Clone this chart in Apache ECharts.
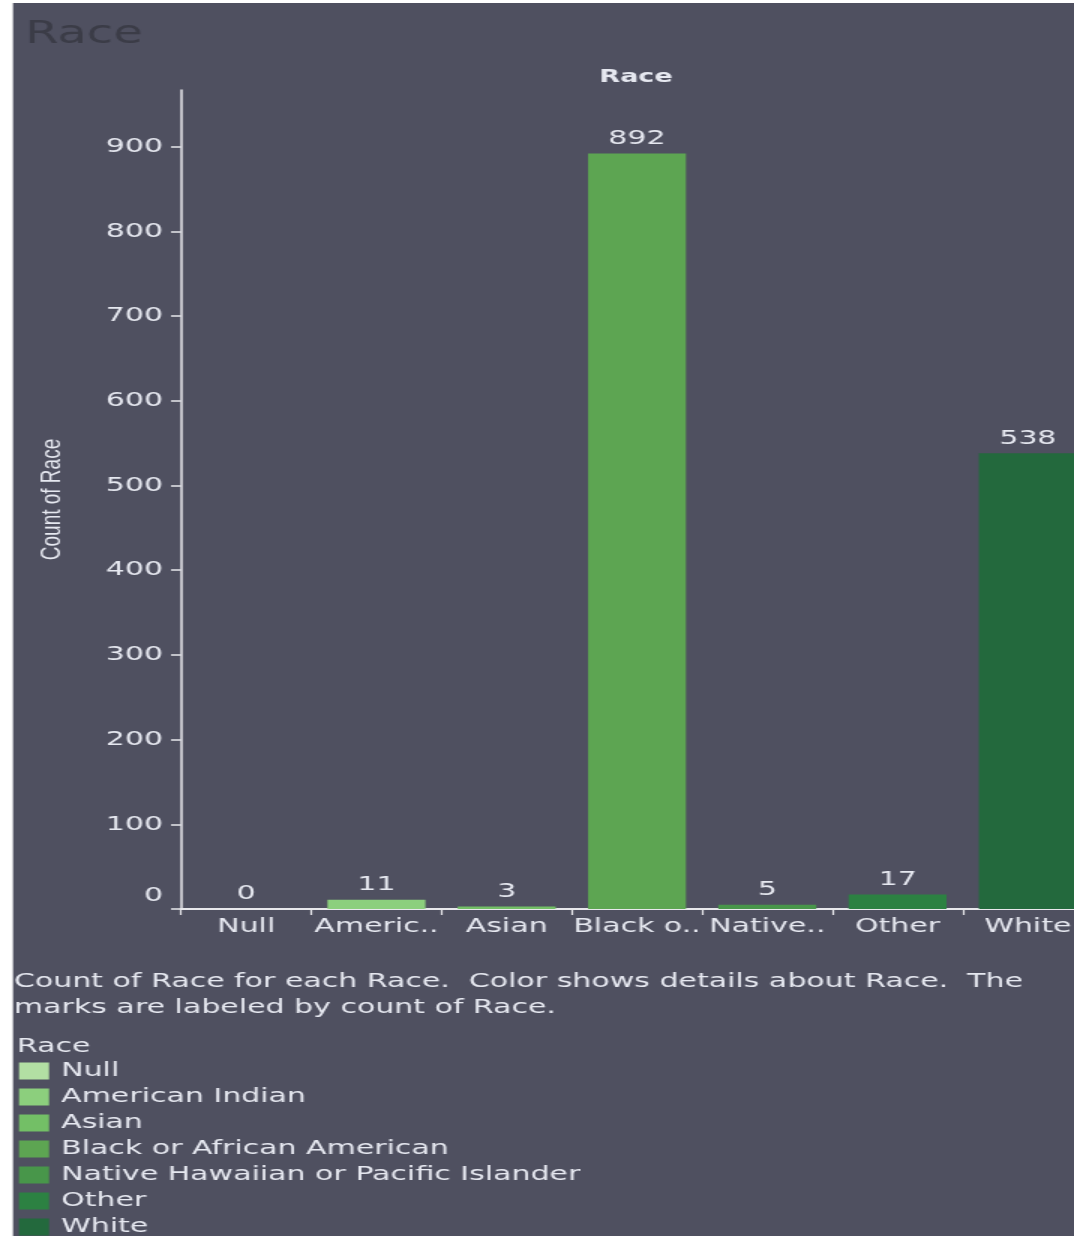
<!DOCTYPE html>
<html><head><meta charset="utf-8">
<script src="https://cdn.jsdelivr.net/npm/echarts@6/dist/echarts.min.js"></script>
<style>
html,body{margin:0;padding:0;background:#fff;overflow:hidden;width:1074px;height:1236px}
#c{width:740px;height:1260px;transform:scaleX(1.5);transform-origin:0 0}
</style>
</head><body><div id="c"></div>
<script>
const categories = ["Null","American Indian","Asian","Black or African American","Native Hawaiian or Pacific Islander","Other","White"];
const tickLabels = ["Null","Americ..","Asian","Black o..","Native..","Other","White"];
const counts = [0, 11, 3, 892, 5, 17, 538];
const colors = ["#b2dfa3","#8ccf7d","#73bf66","#5da552","#48964a","#2c8142","#23693d"];
const yTicks = [0,100,200,300,400,500,600,700,800,900];

const txt = '#e6e8f0';
const font = 'DejaVu Sans';
const series = categories.map((name, i) => ({
  name: name,
  type: 'bar',
  stack: 'all',
  barWidth: 65.3,
  itemStyle: { color: colors[i] },
  label: { show: true, position: 'top', color: txt, fontFamily: font, fontSize: 20, distance: 5 },
  data: counts.map((v, j) => j === i ? v : null)
}));

const chart = echarts.init(document.getElementById('c'));
chart.setOption({
  backgroundColor: '#ffffff',
  animation: false,
  textStyle: { fontFamily: font },
  graphic: [
    { type: 'rect', z: -100, shape: { x: 8.67, y: 3, width: 800, height: 1300 }, style: { fill: '#4f5060' } },
    { type: 'text', x: 16.7, y: 35, style: { text: 'Race', fill: '#3b3c47', font: '32px "DejaVu Sans"', verticalAlign: 'middle' } },
    { type: 'text', x: 424, y: 77, style: { text: 'Race', fill: txt, font: 'bold 18px "DejaVu Sans"', align: 'center', verticalAlign: 'middle' } },
    { type: 'text', left: 9.3, top: 969, style: { text: 'Count of Race for each Race.  Color shows details about Race.  The\nmarks are labeled by count of Race.', fill: txt, font: '20px "DejaVu Sans"', lineHeight: 26 } },
    { type: 'text', x: 11.3, y: 1047, style: { text: 'Race', fill: txt, font: '20px "DejaVu Sans"', verticalAlign: 'middle' } }
  ],
  legend: {
    orient: 'vertical', left: 12.7, top: 1061, padding: 0, itemWidth: 20, itemHeight: 17, itemGap: 6,
    height: 400, icon: 'rect', data: categories, selectedMode: false,
    textStyle: { color: txt, fontFamily: font, fontSize: 20, lineHeight: 20, padding: [0,0,0,3] }
  },
  grid: { left: 120.67, top: 90, right: 11.33, bottom: 351, containLabel: false },
  xAxis: {
    type: 'category', data: categories,
    axisLine: { lineStyle: { color: '#e8e8ec', width: 2 } },
    axisTick: { show: true, length: 6, lineStyle: { color: '#e8e8ec', width: 1.2 } },
    axisLabel: { color: txt, fontFamily: font, fontSize: 20, margin: 8, interval: 0,
      formatter: (v, i) => tickLabels[i] }
  },
  yAxis: {
    type: 'value', min: 0, max: 967, interval: 100,
    name: 'Count of Race', nameLocation: 'middle', nameRotate: 90, nameGap: 76,
    nameTextStyle: { color: txt, fontFamily: 'Liberation Sans', fontSize: 19 },
    axisLine: { show: true, lineStyle: { color: '#e8e8ec', width: 1.5 } },
    axisTick: { show: true, length: 6.7, lineStyle: { color: '#e8e8ec', width: 1.5 }, customValues: yTicks },
    axisLabel: { color: txt, fontFamily: font, fontSize: 20, margin: 12, customValues: yTicks,
      formatter: v => v === 0 ? '{z|0}' : String(v),
      rich: { z: { color: txt, fontFamily: font, fontSize: 20, padding: [0,0,26,0] } } },
    splitLine: { show: false }
  },
  series: series
});
</script></body></html>
